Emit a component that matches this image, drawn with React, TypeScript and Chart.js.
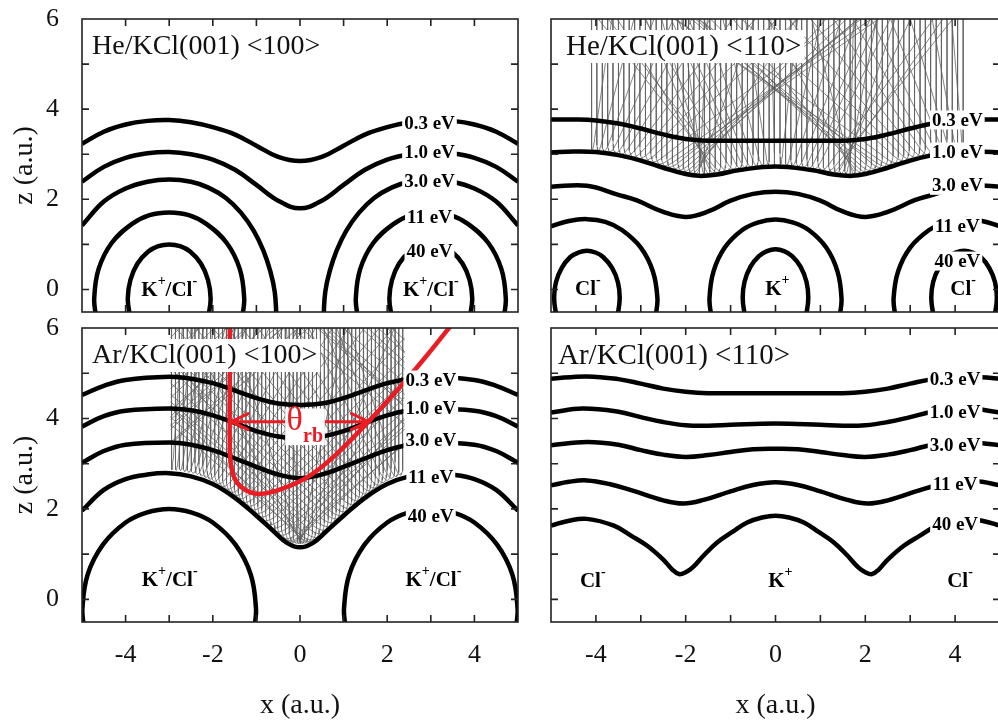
import React, { useEffect, useRef } from "react";
import { Chart, registerables } from "chart.js";

Chart.register(...registerables);

type Pt = [number, number];

const SERIF = "'Liberation Serif', 'Times New Roman', serif";

// ---------- axes ----------
const X_LABEL_TICKS = [-4, -2, 0, 2, 4];
const Z_LABEL_TICKS = [0, 2, 4, 6];
const X_MINOR_TICKS = [-4, -3, -2, -1, 0, 1, 2, 3, 4];
const Z_MINOR_TICKS = [0, 1, 2, 3, 4, 5];
const X_MIN = -5;
const X_MAX = 5;
const Z_MIN = -0.5;
const Z_MAX = 6;
const Z_LAUNCH = 6.3;

const ENERGY_LABELS = ["0.3 eV", "1.0 eV", "3.0 eV", "11 eV", "40 eV"];

// ---------- He / KCl(001) <100> ----------
const he100_03: Pt[] = [[-5, 3.23], [-4.5, 3.5], [-4, 3.66], [-3.5, 3.74], [-3, 3.76], [-2.5, 3.71], [-2, 3.6], [-1.5, 3.44], [-1, 3.19], [-0.5, 2.94], [0, 2.85], [0.5, 2.94], [1, 3.19], [1.5, 3.44], [2, 3.6], [2.5, 3.71], [3, 3.76], [3.5, 3.74], [4, 3.66], [4.5, 3.5], [5, 3.23]];
const he100_10: Pt[] = [[-5, 2.39], [-4.5, 2.72], [-4, 2.92], [-3.5, 3.02], [-3, 3.05], [-2.5, 3.0], [-2, 2.88], [-1.5, 2.66], [-1, 2.32], [-0.5, 1.97], [0, 1.8], [0.5, 1.97], [1, 2.32], [1.5, 2.66], [2, 2.88], [2.5, 3.0], [3, 3.05], [3.5, 3.02], [4, 2.92], [4.5, 2.72], [5, 2.39]];
const he100_30L: Pt[] = [[-5, 1.42], [-4.5, 1.95], [-4, 2.24], [-3.5, 2.39], [-3, 2.44], [-2.5, 2.39], [-2.1, 2.26], [-1.7, 2.03], [-1.35, 1.7], [-1.06, 1.3], [-0.84, 0.86], [-0.68, 0.4], [-0.58, -0.05], [-0.54, -0.6]];
const he100_30R: Pt[] = [[0.54, -0.6], [0.58, -0.05], [0.68, 0.4], [0.84, 0.86], [1.06, 1.3], [1.35, 1.7], [1.7, 2.03], [2.1, 2.26], [2.5, 2.39], [3, 2.44], [3.5, 2.39], [4, 2.24], [4.5, 1.95], [5, 1.42]];
const he100_11L: Pt[] = [[-4.68, -0.6], [-4.72, -0.2], [-4.62, 0.45], [-4.32, 1.03], [-3.86, 1.45], [-3.45, 1.65], [-3, 1.71], [-2.55, 1.65], [-2.14, 1.45], [-1.68, 1.03], [-1.38, 0.45], [-1.28, -0.2], [-1.32, -0.6]];
const he100_11R: Pt[] = [[1.32, -0.6], [1.28, -0.2], [1.38, 0.45], [1.68, 1.03], [2.14, 1.45], [2.55, 1.65], [3, 1.71], [3.45, 1.65], [3.86, 1.45], [4.32, 1.03], [4.62, 0.45], [4.72, -0.2], [4.68, -0.6]];
const he100_40L: Pt[] = [[-3.9, -0.6], [-3.95, -0.2], [-3.89, 0.21], [-3.73, 0.57], [-3.48, 0.84], [-3.25, 0.96], [-3, 1.0], [-2.75, 0.96], [-2.52, 0.84], [-2.27, 0.57], [-2.11, 0.21], [-2.05, -0.2], [-2.1, -0.6]];
const he100_40R: Pt[] = [[2.1, -0.6], [2.05, -0.2], [2.11, 0.21], [2.27, 0.57], [2.52, 0.84], [2.75, 0.96], [3, 1.0], [3.25, 0.96], [3.48, 0.84], [3.73, 0.57], [3.89, 0.21], [3.95, -0.2], [3.9, -0.6]];
const he100LabelX = 2.97;
const he100LabelZ = [3.7, 3.04, 2.41, 1.6, 0.86];

// ---------- He / KCl(001) <110> ----------
const he110_03: Pt[] = [[-5, 3.77], [-4.5, 3.77], [-4, 3.75], [-3.5, 3.68], [-3, 3.57], [-2.5, 3.44], [-2, 3.34], [-1.5, 3.3], [-1, 3.3], [0, 3.3], [1, 3.3], [1.5, 3.3], [2, 3.34], [2.5, 3.44], [3, 3.57], [3.5, 3.68], [4, 3.75], [4.5, 3.77], [5, 3.77]];
const he110_10: Pt[] = [[-5, 3.04], [-4.5, 3.06], [-4, 3.05], [-3.5, 2.98], [-3, 2.86], [-2.5, 2.7], [-2, 2.56], [-1.7, 2.52], [-1.3, 2.55], [-0.8, 2.65], [0, 2.73], [0.8, 2.65], [1.3, 2.55], [1.7, 2.52], [2, 2.56], [2.5, 2.7], [3, 2.86], [3.5, 2.98], [4, 3.05], [4.5, 3.06], [5, 3.04]];
const he110_30: Pt[] = [[-5, 2.28], [-4.2, 2.3], [-3.5, 2.1], [-3.1, 1.98], [-2.5, 1.72], [-2, 1.61], [-1.5, 1.73], [-1, 1.97], [-0.5, 2.12], [0, 2.17], [0.5, 2.12], [1, 1.97], [1.5, 1.73], [2, 1.61], [2.5, 1.72], [3.1, 1.98], [3.5, 2.1], [4.2, 2.3], [5, 2.28]];
const he110_11L: Pt[] = [[-5, 1.4], [-4.6, 1.52], [-4.2, 1.56], [-3.79, 1.5], [-3.42, 1.32], [-3.0, 0.93], [-2.73, 0.4], [-2.63, -0.2], [-2.67, -0.6]];
const he110_11K: Pt[] = [[-1.43, -0.6], [-1.47, -0.2], [-1.38, 0.4], [-1.13, 0.93], [-0.74, 1.32], [-0.38, 1.49], [0, 1.55], [0.38, 1.49], [0.74, 1.32], [1.13, 0.93], [1.38, 0.4], [1.47, -0.2], [1.43, -0.6]];
const he110_11R: Pt[] = [[2.67, -0.6], [2.63, -0.2], [2.73, 0.4], [3.0, 0.93], [3.42, 1.32], [3.79, 1.5], [4.2, 1.56], [4.6, 1.52], [5, 1.4]];
const he110_40L: Pt[] = [[-4.88, -0.6], [-4.93, -0.2], [-4.89, 0.16], [-4.76, 0.48], [-4.57, 0.72], [-4.39, 0.82], [-4.2, 0.86], [-4.01, 0.82], [-3.84, 0.72], [-3.64, 0.48], [-3.51, 0.16], [-3.47, -0.2], [-3.52, -0.6]];
const he110_40K: Pt[] = [[-0.68, -0.6], [-0.73, -0.2], [-0.69, 0.17], [-0.56, 0.5], [-0.37, 0.74], [-0.19, 0.85], [0, 0.89], [0.19, 0.85], [0.37, 0.74], [0.56, 0.5], [0.69, 0.17], [0.73, -0.2], [0.68, -0.6]];
const he110_40R: Pt[] = [[3.52, -0.6], [3.47, -0.2], [3.51, 0.16], [3.64, 0.48], [3.84, 0.72], [4.01, 0.82], [4.2, 0.86], [4.39, 0.82], [4.57, 0.72], [4.76, 0.48], [4.89, 0.16], [4.93, -0.2], [4.88, -0.6]];
const he110LabelX = 4.05;
const he110LabelZ = [3.76, 3.05, 2.31, 1.41, 0.63];
// incoming He rays (x of each straight descent)
const he110Launch = [-4.1, -3.98, -3.86, -3.74, -3.62, -3.5, -3.38, -3.26, -3.14, -3.02, -2.9, -2.78, -2.66, -2.54, -2.42, -2.3, -2.18, -2.06, -1.94, -1.82, -1.7, -1.58, -1.46, -1.34, -1.22, -1.1, -0.98, -0.86, -0.74, -0.62, -0.5, -0.38, -0.26, -0.14, -0.02, 0.1, 0.22, 0.34, 0.46, 0.58, 0.7, 0.82, 0.94, 1.06, 1.18, 1.3, 1.42, 1.54, 1.66, 1.78, 1.9, 2.02, 2.14, 2.26, 2.38, 2.5, 2.62, 2.74, 2.86, 2.98, 3.1, 3.22, 3.34, 3.46, 3.58, 3.7, 3.82, 3.94, 4.06, 4.18];

// ---------- Ar / KCl(001) <100> ----------
const ar100_03: Pt[] = [[-5, 4.52], [-4.5, 4.72], [-4, 4.85], [-3, 4.92], [-2.5, 4.88], [-2, 4.78], [-1.5, 4.62], [-1, 4.45], [-0.5, 4.33], [0, 4.3], [0.5, 4.33], [1, 4.45], [1.5, 4.62], [2, 4.78], [2.5, 4.88], [3, 4.92], [4, 4.85], [4.5, 4.72], [5, 4.52]];
const ar100_10: Pt[] = [[-5, 3.82], [-4.5, 4.05], [-4, 4.17], [-3, 4.22], [-2.5, 4.18], [-2, 4.07], [-1.5, 3.9], [-1, 3.72], [-0.5, 3.6], [0, 3.56], [0.5, 3.6], [1, 3.72], [1.5, 3.9], [2, 4.07], [2.5, 4.18], [3, 4.22], [4, 4.17], [4.5, 4.05], [5, 3.82]];
const ar100_30: Pt[] = [[-5, 3.02], [-4.5, 3.28], [-4, 3.42], [-3, 3.47], [-2.5, 3.42], [-2, 3.3], [-1.5, 3.12], [-1, 2.93], [-0.5, 2.76], [0, 2.68], [0.5, 2.76], [1, 2.93], [1.5, 3.12], [2, 3.3], [2.5, 3.42], [3, 3.47], [4, 3.42], [4.5, 3.28], [5, 3.02]];
const ar100_11: Pt[] = [[-5, 1.96], [-4.5, 2.42], [-4, 2.66], [-3.5, 2.76], [-3, 2.79], [-2.5, 2.72], [-2, 2.55], [-1.5, 2.25], [-1, 1.85], [-0.6, 1.5], [-0.3, 1.25], [0, 1.15], [0.3, 1.25], [0.6, 1.5], [1, 1.85], [1.5, 2.25], [2, 2.55], [2.5, 2.72], [3, 2.79], [3.5, 2.76], [4, 2.66], [4.5, 2.42], [5, 1.96]];
const ar100_40L: Pt[] = [[-4.96, -0.6], [-4.99, -0.2], [-4.87, 0.55], [-4.52, 1.21], [-4.0, 1.7], [-3.52, 1.92], [-3, 2.0], [-2.48, 1.92], [-2.0, 1.7], [-1.48, 1.21], [-1.13, 0.55], [-1.01, -0.2], [-1.04, -0.6]];
const ar100_40R: Pt[] = [[1.04, -0.6], [1.01, -0.2], [1.13, 0.55], [1.48, 1.21], [2.0, 1.7], [2.48, 1.92], [3, 2.0], [3.52, 1.92], [4.0, 1.7], [4.52, 1.21], [4.87, 0.55], [4.99, -0.2], [4.96, -0.6]];
const ar100LabelX = 3.0;
const ar100LabelZ = [4.85, 4.22, 3.52, 2.7, 1.85];
const ar100Launch = [-2.95, -2.86, -2.77, -2.68, -2.59, -2.5, -2.41, -2.32, -2.23, -2.14, -2.05, -1.96, -1.87, -1.78, -1.69, -1.6, -1.51, -1.42, -1.33, -1.24, -1.15, -1.06, -0.97, -0.88, -0.79, -0.7, -0.61, -0.52, -0.43, -0.34, -0.25, -0.16, -0.07, 0.02, 0.11, 0.2, 0.29, 0.38, 0.47, 0.56, 0.65, 0.74, 0.83, 0.92, 1.01, 1.1, 1.19, 1.28, 1.37, 1.46, 1.55, 1.64, 1.73, 1.82, 1.91, 2.0, 2.09, 2.18, 2.27, 2.36];
// rainbow trajectory and the rainbow angle marker
const ar100Rainbow: Pt[] = [[-1.61, 6.3], [-1.61, 4.5], [-1.61, 3.4], [-1.58, 2.95], [-1.47, 2.62], [-1.25, 2.42], [-0.92, 2.33], [-0.4, 2.45], [0.2, 2.72], [0.8, 3.18], [1.57, 3.93], [2.3, 4.7], [2.9, 5.38], [3.5, 6.1]];
const rbArrowZ = 3.93;
const rbArrowX: [number, number] = [-1.58, 1.57];

// ---------- Ar / KCl(001) <110> ----------
const ar110_03: Pt[] = [[-5, 4.88], [-4.2, 4.93], [-3.5, 4.87], [-3, 4.77], [-2.5, 4.66], [-2, 4.59], [-1.5, 4.56], [0, 4.56], [1.5, 4.56], [2, 4.59], [2.5, 4.66], [3, 4.77], [3.5, 4.87], [4.2, 4.93], [5, 4.88]];
const ar110_10: Pt[] = [[-5, 4.13], [-4.3, 4.22], [-3.5, 4.15], [-3, 4.03], [-2.5, 3.92], [-2, 3.85], [-1.5, 3.84], [-1, 3.86], [0, 3.89], [1, 3.86], [1.5, 3.84], [2, 3.85], [2.5, 3.92], [3, 4.03], [3.5, 4.15], [4.3, 4.22], [5, 4.13]];
const ar110_30: Pt[] = [[-5, 3.41], [-4.2, 3.48], [-3.5, 3.42], [-3, 3.3], [-2.5, 3.2], [-2, 3.15], [-1.5, 3.19], [-1, 3.26], [-0.5, 3.32], [0, 3.33], [0.5, 3.32], [1, 3.26], [1.5, 3.19], [2, 3.15], [2.5, 3.2], [3, 3.3], [3.5, 3.42], [4.2, 3.48], [5, 3.41]];
const ar110_11: Pt[] = [[-5, 2.52], [-4.6, 2.6], [-4.2, 2.63], [-3.7, 2.55], [-3.2, 2.41], [-2.5, 2.19], [-2.05, 2.12], [-1.6, 2.2], [-1, 2.39], [-0.5, 2.53], [0, 2.59], [0.5, 2.53], [1, 2.39], [1.6, 2.2], [2.05, 2.12], [2.5, 2.19], [3.2, 2.41], [3.7, 2.55], [4.2, 2.63], [4.6, 2.6], [5, 2.52]];
const ar110_40: Pt[] = [[-5, 1.63], [-4.6, 1.74], [-4.2, 1.78], [-3.6, 1.63], [-3.2, 1.4], [-2.85, 1.18], [-2.5, 0.88], [-2.3, 0.66], [-2.15, 0.56], [-2.0, 0.6], [-1.85, 0.7], [-1.6, 0.97], [-1.3, 1.26], [-0.95, 1.5], [-0.63, 1.7], [-0.3, 1.81], [0, 1.85], [0.3, 1.81], [0.63, 1.7], [0.95, 1.5], [1.3, 1.26], [1.6, 0.97], [1.85, 0.7], [2.0, 0.6], [2.15, 0.56], [2.3, 0.66], [2.5, 0.88], [2.85, 1.18], [3.2, 1.4], [3.6, 1.63], [4.2, 1.78], [4.6, 1.74], [5, 1.63]];
const ar110LabelX = 4.0;
const ar110LabelZ = [4.87, 4.13, 3.41, 2.56, 1.67];

// ---------- ion labels ----------
type Seg = { t: string; sup?: boolean };
const KCL: Seg[] = [{ t: "K" }, { t: "+", sup: true }, { t: "/Cl" }, { t: "-", sup: true }];
const CL: Seg[] = [{ t: "Cl" }, { t: "-", sup: true }];
const KP: Seg[] = [{ t: "K" }, { t: "+", sup: true }];

interface Ion { segs: Seg[]; x: number; z: number }
interface RaySpec { launch: number[]; turn: Pt[]; lift: number; cell: [number, number]; soft: number; bend: number }
interface PanelDef {
  title: string;
  titleDx: number;
  titleSize: number;
  contours: Pt[][];
  labelX: number;
  labelZ: number[];
  ions: Ion[];
  rays?: RaySpec;
  rainbow?: Pt[];
  box: { x: number; y: number; w: number; h: number };
  pad: { left: number; right: number; top: number; bottom: number };
  showY: boolean;
  showX: boolean;
}

// smooth evaluation of an equipotential z(x) (cubic Hermite through the points)
function evalCurve(c: Pt[], x: number): number {
  const n = c.length;
  if (x <= c[0][0]) return c[0][1];
  if (x >= c[n - 1][0]) return c[n - 1][1];
  let i = 0;
  while (i < n - 2 && x > c[i + 1][0]) i++;
  const slope = (k: number) => {
    const a = c[Math.max(k - 1, 0)];
    const b = c[Math.min(k + 1, n - 1)];
    return (b[1] - a[1]) / (b[0] - a[0]);
  };
  const [x0, z0] = c[i];
  const [x1, z1] = c[i + 1];
  const h = x1 - x0;
  const t = (x - x0) / h;
  const t2 = t * t;
  const t3 = t2 * t;
  return (2 * t3 - 3 * t2 + 1) * z0 + (t3 - 2 * t2 + t) * h * slope(i) + (-2 * t3 + 3 * t2) * z1 + (t3 - t2) * h * slope(i + 1);
}

// each ray falls straight down, bends on a parabola whose lowest point sits on the
// equipotential, then leaves along the deflected direction; rays leaving the
// surface cell re-enter on the opposite side
function buildRays(spec: RaySpec) {
  const out: { x: number; y: number | null }[] = [];
  const [L, R] = spec.cell;
  const W = R - L;
  const T = spec.bend;
  for (const x0 of spec.launch) {
    const s = (evalCurve(spec.turn, x0 + 0.02) - evalCurve(spec.turn, x0 - 0.02)) / 0.04;
    const ang = -2 * spec.soft * Math.atan(s);
    const vx = Math.sin(ang);
    const vz = Math.max(Math.cos(ang), 0.2);
    const ax = vx / T;
    const az = (vz + 1) / T;
    const tLow = T / (1 + vz);
    const zs = evalCurve(spec.turn, x0 + 0.5 * ax * tLow * tLow) + spec.lift + tLow / 2;
    out.push({ x: x0, y: Z_LAUNCH }, { x: x0, y: zs });
    for (let k = 1; k <= 12; k++) {
      const t = (T * k) / 12;
      out.push({ x: x0 + 0.5 * ax * t * t, y: zs - t + 0.5 * az * t * t });
    }
    let x = x0 + 0.5 * vx * T;
    let z = zs - T + 0.5 * (vz + 1) * T;
    if (x > R || x < L) {
      out.push({ x, y: null });
      x = x > R ? x - W : x + W;
      out.push({ x, y: z });
    }
    let left = (Z_LAUNCH - z) / vz;
    for (let k = 0; k < 8 && left > 1e-6; k++) {
      let tb = Infinity;
      if (vx > 1e-9) tb = (R - x) / vx;
      else if (vx < -1e-9) tb = (L - x) / vx;
      if (tb >= left) {
        out.push({ x: x + vx * left, y: z + vz * left });
        break;
      }
      const xb = x + vx * tb;
      const zb = z + vz * tb;
      out.push({ x: xb, y: zb }, { x: xb, y: null });
      x = vx > 0 ? L : R;
      z = zb;
      left -= tb;
      out.push({ x, y: z });
    }
    out.push({ x: x0, y: null });
  }
  return out;
}

const PANELS: PanelDef[] = [
  {
    title: "He/KCl(001) <100>", titleDx: 10, titleSize: 28,
    contours: [he100_03, he100_10, he100_30L, he100_30R, he100_11L, he100_11R, he100_40L, he100_40R],
    labelX: he100LabelX, labelZ: he100LabelZ,
    ions: [{ segs: KCL, x: -3, z: 0 }, { segs: KCL, x: 3, z: 0 }],
    box: { x: 0, y: 0, w: 525, h: 330 }, pad: { left: 0, right: 7, top: 19, bottom: 18 },
    showY: true, showX: false,
  },
  {
    title: "He/KCl(001) <110>", titleDx: 15, titleSize: 29,
    contours: [he110_03, he110_10, he110_30, he110_11L, he110_11K, he110_11R, he110_40L, he110_40K, he110_40R],
    labelX: he110LabelX, labelZ: he110LabelZ,
    ions: [{ segs: CL, x: -4.18, z: 0.02 }, { segs: KP, x: 0.04, z: 0.02 }, { segs: CL, x: 4.18, z: 0.02 }],
    rays: { launch: he110Launch, turn: he110_10, lift: 0.04, cell: [-4.2, 4.2], soft: 1.5, bend: 1.0 },
    box: { x: 530, y: 0, w: 475, h: 330 }, pad: { left: 21, right: 5, top: 19, bottom: 18 },
    showY: false, showX: false,
  },
  {
    title: "Ar/KCl(001) <100>", titleDx: 10, titleSize: 28,
    contours: [ar100_03, ar100_10, ar100_30, ar100_11, ar100_40L, ar100_40R],
    labelX: ar100LabelX, labelZ: ar100LabelZ,
    ions: [{ segs: KCL, x: -2.99, z: 0.44 }, { segs: KCL, x: 3.06, z: 0.44 }],
    rays: { launch: ar100Launch, turn: ar100_11, lift: 0.08, cell: [-2.97, 2.4], soft: 0.6, bend: 1.4 },
    rainbow: ar100Rainbow,
    box: { x: 0, y: 300, w: 525, h: 422 }, pad: { left: 0, right: 7, top: 28, bottom: 0 },
    showY: true, showX: true,
  },
  {
    title: "Ar/KCl(001) <110>", titleDx: 7, titleSize: 29,
    contours: [ar110_03, ar110_10, ar110_30, ar110_11, ar110_40],
    labelX: ar110LabelX, labelZ: ar110LabelZ,
    ions: [{ segs: CL, x: -4.07, z: 0.41 }, { segs: KP, x: 0.11, z: 0.41 }, { segs: CL, x: 4.11, z: 0.41 }],
    box: { x: 530, y: 300, w: 475, h: 422 }, pad: { left: 21, right: 5, top: 28, bottom: 0 },
    showY: false, showX: true,
  },
];

function boxedText(ctx: CanvasRenderingContext2D, text: string, cx: number, cy: number, font: string, color: string, padX: number, h: number) {
  ctx.font = font;
  const w = ctx.measureText(text).width;
  ctx.fillStyle = "#fff";
  ctx.fillRect(cx - w / 2 - padX, cy - h / 2, w + 2 * padX, h);
  ctx.fillStyle = color;
  ctx.textAlign = "center";
  ctx.textBaseline = "middle";
  ctx.fillText(text, cx, cy + 1);
}

function richText(ctx: CanvasRenderingContext2D, segs: Seg[], cx: number, cy: number) {
  const base = `bold 21px ${SERIF}`;
  const sup = `bold 14px ${SERIF}`;
  let total = 0;
  const widths = segs.map((s) => {
    ctx.font = s.sup ? sup : base;
    const w = ctx.measureText(s.t).width;
    total += w;
    return w;
  });
  let x = cx - total / 2;
  ctx.fillStyle = "#000";
  ctx.textAlign = "left";
  ctx.textBaseline = "middle";
  segs.forEach((s, i) => {
    ctx.font = s.sup ? sup : base;
    ctx.fillText(s.t, x, s.sup ? cy - 8 : cy + 1);
    x += widths[i];
  });
}

function decorPlugin(def: PanelDef) {
  return {
    id: "panelDecor",
    afterDatasetsDraw(chart: any) {
      const { ctx, chartArea: a } = chart;
      const xs = chart.scales.x;
      const ys = chart.scales.y;
      const px = (v: number) => xs.getPixelForValue(v);
      const pz = (v: number) => ys.getPixelForValue(v);
      ctx.save();
      ctx.beginPath();
      ctx.rect(a.left, a.top, a.right - a.left, a.bottom - a.top);
      ctx.clip();

      // rainbow angle marker
      if (def.rainbow) {
        const red = "#ec1c24";
        const y = pz(rbArrowZ);
        const xl = px(rbArrowX[0]);
        const xr = px(rbArrowX[1]);
        ctx.strokeStyle = red;
        ctx.lineWidth = 3;
        ctx.lineCap = "round";
        ctx.beginPath();
        ctx.moveTo(xl, y);
        ctx.lineTo(xr, y);
        ctx.moveTo(xl + 17, y - 8);
        ctx.lineTo(xl, y);
        ctx.lineTo(xl + 17, y + 8);
        ctx.moveTo(xr - 17, y - 8);
        ctx.lineTo(xr, y);
        ctx.lineTo(xr - 17, y + 8);
        ctx.stroke();
        const bx0 = px(-0.34);
        const bx1 = px(0.57);
        const by0 = pz(4.22);
        const by1 = pz(3.41);
        ctx.fillStyle = "#fff";
        ctx.fillRect(bx0, by0, bx1 - bx0, by1 - by0);
        ctx.fillStyle = red;
        ctx.textAlign = "center";
        ctx.textBaseline = "middle";
        ctx.font = `34px ${SERIF}`;
        ctx.fillText("θ", px(-0.12), pz(3.95));
        ctx.font = `bold 20px ${SERIF}`;
        ctx.fillText("rb", px(0.3), pz(3.6));
      }

      // equipotential energy labels
      def.labelZ.forEach((z, i) => {
        boxedText(ctx, ENERGY_LABELS[i], px(def.labelX), pz(z), `bold 19px ${SERIF}`, "#000", 2, 19);
      });

      // ion labels
      def.ions.forEach((ion) => richText(ctx, ion.segs, px(ion.x), pz(ion.z)));

      // panel title
      ctx.font = `${def.titleSize}px ${SERIF}`;
      const tw = ctx.measureText(def.title).width;
      const tx = a.left + def.titleDx;
      const ty = a.top + 27;
      ctx.fillStyle = "#fff";
      ctx.fillRect(tx - 3, ty - 16, tw + 6, 33);
      ctx.fillStyle = "#111";
      ctx.textAlign = "left";
      ctx.textBaseline = "middle";
      ctx.fillText(def.title, tx, ty + 1);
      ctx.restore();

      // frame and inward ticks on all four sides
      ctx.save();
      ctx.strokeStyle = "#222";
      ctx.lineWidth = 1.6;
      ctx.strokeRect(a.left, a.top, a.right - a.left, a.bottom - a.top);
      const TL = 7;
      ctx.beginPath();
      X_MINOR_TICKS.forEach((v) => {
        const p = px(v);
        ctx.moveTo(p, a.bottom);
        ctx.lineTo(p, a.bottom - TL);
        ctx.moveTo(p, a.top);
        ctx.lineTo(p, a.top + TL);
      });
      Z_MINOR_TICKS.forEach((v) => {
        const p = pz(v);
        ctx.moveTo(a.left, p);
        ctx.lineTo(a.left + TL, p);
        ctx.moveTo(a.right, p);
        ctx.lineTo(a.right - TL, p);
      });
      ctx.stroke();
      ctx.restore();
    },
  };
}

function buildChart(canvas: HTMLCanvasElement, def: PanelDef) {
  const datasets: any[] = [];
  if (def.rays) {
    datasets.push({
      data: buildRays(def.rays),
      showLine: true,
      borderColor: "rgba(95,95,95,0.85)",
      borderWidth: 0.9,
      pointRadius: 0,
      tension: 0,
      spanGaps: false,
      order: 3,
    });
  }
  def.contours.forEach((c) => {
    datasets.push({
      data: c.map(([x, z]) => ({ x, y: z })),
      showLine: true,
      borderColor: "#000",
      borderWidth: 4.5,
      pointRadius: 0,
      tension: 0.4,
      order: 2,
    });
  });
  if (def.rainbow) {
    datasets.push({
      data: def.rainbow.map(([x, z]) => ({ x, y: z })),
      showLine: true,
      borderColor: "#ec1c24",
      borderWidth: 4.5,
      pointRadius: 0,
      tension: 0.35,
      order: 1,
    });
  }

  const zeroPad = (s: any) => {
    s.paddingTop = 0;
    s.paddingBottom = 0;
    s.paddingLeft = 0;
    s.paddingRight = 0;
  };

  return new Chart(canvas, {
    type: "scatter",
    data: { datasets },
    options: {
      animation: false,
      responsive: false,
      events: [],
      layout: { padding: def.pad },
      plugins: { legend: { display: false }, tooltip: { enabled: false } },
      scales: {
        x: {
          type: "linear",
          min: X_MIN,
          max: X_MAX,
          display: def.showX,
          grid: { display: false },
          border: { display: false },
          afterBuildTicks: (s: any) => {
            s.ticks = X_LABEL_TICKS.map((v) => ({ value: v }));
          },
          ticks: {
            font: { family: SERIF, size: 26 },
            color: "#111",
            padding: 10,
            callback: (v: any) => String(v),
          },
          title: {
            display: true,
            text: "x (a.u.)",
            font: { family: SERIF, size: 28 },
            color: "#111",
            padding: { top: 0, bottom: 0 },
          },
          afterFit: (s: any) => {
            s.height = def.showX ? 100 : 0;
            zeroPad(s);
          },
        },
        y: {
          type: "linear",
          min: Z_MIN,
          max: Z_MAX,
          display: def.showY,
          grid: { display: false },
          border: { display: false },
          afterBuildTicks: (s: any) => {
            s.ticks = Z_LABEL_TICKS.map((v) => ({ value: v }));
          },
          ticks: {
            font: { family: SERIF, size: 26 },
            color: "#111",
            padding: 15,
            callback: (v: any) => String(v),
          },
          title: {
            display: true,
            text: "z (a.u.)",
            font: { family: SERIF, size: 28 },
            color: "#111",
            padding: { top: 8, bottom: 0 },
          },
          afterFit: (s: any) => {
            s.width = def.showY ? 82 : 0;
            zeroPad(s);
          },
        },
      },
    } as any,
    plugins: [decorPlugin(def)],
  });
}

function Panel({ def }: { def: PanelDef }) {
  const ref = useRef<HTMLCanvasElement>(null);
  useEffect(() => {
    const chart = buildChart(ref.current as HTMLCanvasElement, def);
    return () => chart.destroy();
  }, [def]);
  const b = def.box;
  return (
    <canvas
      ref={ref}
      width={b.w}
      height={b.h}
      style={{ position: "absolute", left: b.x, top: b.y, width: b.w, height: b.h }}
    />
  );
}

export default function App() {
  return (
    <div
      style={{
        position: "absolute",
        left: 0,
        top: 0,
        width: 998,
        height: 722,
        overflow: "hidden",
        background: "#fff",
      }}
    >
      {PANELS.map((p, i) => (
        <Panel key={i} def={p} />
      ))}
    </div>
  );
}
